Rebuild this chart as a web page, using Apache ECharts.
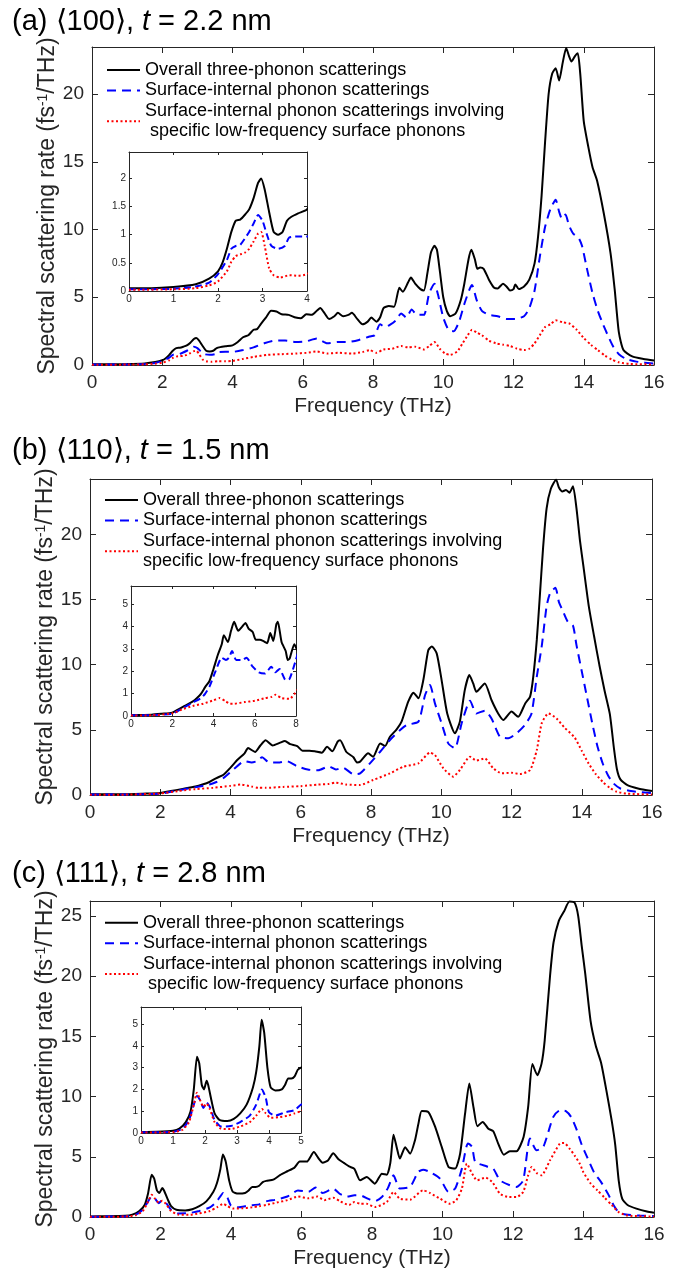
<!DOCTYPE html>
<html>
<head>
<meta charset="utf-8">
<title>Spectral scattering rate</title>
<script src="https://cdn.jsdelivr.net/npm/echarts@6/dist/echarts.min.js"></script>
<style>
  html, body { margin: 0; padding: 0; background: #fff; }
  #chart { width: 689px; height: 1273px; }
</style>
</head>
<body>
<div id="chart"></div>
<script>
// series values as [frequency (THz), rate (fs^-1/THz)]
const totalA = [[0,0.05],[0.5,0.05],[1,0.07],[1.5,0.12],[1.8,0.22],[2,0.35],[2.1,0.5],[2.2,0.75],[2.3,1.05],[2.4,1.25],[2.5,1.27],[2.6,1.35],[2.7,1.45],[2.8,1.65],[2.9,1.92],[2.97,2.0],[3.05,1.8],[3.15,1.4],[3.25,1.05],[3.35,1.0],[3.45,1.05],[3.55,1.25],[3.65,1.32],[3.8,1.38],[4.0,1.45],[4.15,1.7],[4.3,2.05],[4.45,2.2],[4.6,2.6],[4.7,2.65],[4.8,3.0],[4.95,3.5],[5.1,4.0],[5.25,3.95],[5.4,3.75],[5.6,3.7],[5.8,3.5],[5.95,3.45],[6.1,3.75],[6.25,3.7],[6.4,4.0],[6.5,4.2],[6.6,3.9],[6.75,3.4],[6.9,3.6],[7.0,3.85],[7.15,3.6],[7.3,3.7],[7.4,3.85],[7.55,3.4],[7.7,3.0],[7.85,3.2],[7.95,3.5],[8.1,3.2],[8.2,3.5],[8.3,4.2],[8.45,4.35],[8.6,4.3],[8.75,5.7],[8.85,5.4],[9.0,6.1],[9.08,6.45],[9.2,6.0],[9.35,5.6],[9.45,5.5],[9.55,6.8],[9.65,8.3],[9.75,8.8],[9.82,8.5],[9.9,7.0],[10.0,5.0],[10.1,4.0],[10.2,3.6],[10.35,3.8],[10.5,4.8],[10.6,6.0],[10.72,7.8],[10.8,8.5],[10.9,7.8],[10.97,7.1],[11.05,7.2],[11.15,7.1],[11.3,6.3],[11.45,5.7],[11.55,5.65],[11.7,6.0],[11.8,5.8],[11.9,5.5],[12.0,5.6],[12.05,5.95],[12.15,5.6],[12.3,5.8],[12.45,6.3],[12.6,7.5],[12.7,9.5],[12.8,12.5],[12.9,16.5],[13.0,20.0],[13.1,21.5],[13.2,21.9],[13.3,21.0],[13.4,22.3],[13.5,23.4],[13.58,22.8],[13.65,22.4],[13.75,22.8],[13.83,23.0],[13.9,21.5],[14.0,18.0],[14.13,16.1],[14.25,14.6],[14.38,13.6],[14.57,11.2],[14.76,8.3],[14.88,5.6],[15.0,2.4],[15.13,1.1],[15.38,0.64],[15.7,0.45],[16,0.33]];
const siA = [[0,0.03],[1,0.04],[1.5,0.08],[1.8,0.15],[2,0.3],[2.2,0.55],[2.3,0.75],[2.4,0.8],[2.5,0.82],[2.7,1.05],[2.8,1.2],[2.9,1.35],[3.0,1.25],[3.1,1.0],[3.2,0.8],[3.35,0.75],[3.5,0.8],[3.6,0.95],[3.8,0.97],[4.0,0.97],[4.3,1.1],[4.6,1.3],[4.9,1.6],[5.2,1.8],[5.5,1.8],[5.8,1.7],[6.1,1.75],[6.4,1.95],[6.7,1.6],[7.0,1.7],[7.3,1.7],[7.6,1.85],[7.9,2.1],[8.05,2.2],[8.2,3.0],[8.35,2.8],[8.5,3.0],[8.65,3.3],[8.8,3.8],[8.95,3.5],[9.1,4.1],[9.25,3.7],[9.45,3.7],[9.6,5.3],[9.75,6.0],[9.85,5.2],[10.0,3.5],[10.15,2.6],[10.3,2.5],[10.45,3.2],[10.6,4.5],[10.75,5.6],[10.82,5.9],[10.95,4.8],[11.1,4.0],[11.3,3.7],[11.55,3.6],[11.8,3.4],[12.05,3.4],[12.3,3.6],[12.45,4.2],[12.6,5.5],[12.75,8.0],[12.9,10.2],[13.05,11.5],[13.2,12.2],[13.3,11.3],[13.38,10.8],[13.48,11.1],[13.58,10.3],[13.7,9.7],[13.85,9.4],[13.95,8.8],[14.1,7.0],[14.25,5.3],[14.4,4.0],[14.55,3.0],[14.7,2.1],[14.85,1.3],[15.0,0.8],[15.2,0.45],[15.5,0.25],[16,0.1]];
const lowA = [[0,0.02],[1,0.03],[1.5,0.05],[1.8,0.1],[2,0.17],[2.2,0.35],[2.3,0.52],[2.4,0.62],[2.5,0.65],[2.6,0.68],[2.7,0.75],[2.8,0.88],[2.9,1.02],[2.97,1.05],[3.05,0.8],[3.15,0.4],[3.25,0.28],[3.4,0.24],[3.6,0.28],[3.8,0.27],[4.0,0.3],[4.3,0.45],[4.6,0.6],[5.0,0.75],[5.4,0.8],[5.8,0.85],[6.1,0.9],[6.4,1.0],[6.7,0.85],[7.0,0.9],[7.4,0.85],[7.7,0.95],[7.9,1.1],[8.1,0.9],[8.3,1.15],[8.55,1.2],[8.8,1.4],[9.0,1.3],[9.2,1.35],[9.45,1.15],[9.6,1.4],[9.75,1.7],[9.9,1.2],[10.05,0.85],[10.2,0.75],[10.4,1.0],[10.55,1.6],[10.7,2.2],[10.82,2.6],[10.95,2.4],[11.1,2.2],[11.3,1.8],[11.5,1.6],[11.7,1.5],[11.9,1.4],[12.1,1.2],[12.3,1.1],[12.45,1.2],[12.6,1.6],[12.75,2.2],[12.9,2.8],[13.05,3.0],[13.2,3.3],[13.4,3.15],[13.6,3.05],[13.8,2.6],[14.0,2.0],[14.2,1.5],[14.4,1.1],[14.6,0.7],[14.8,0.4],[15.0,0.2],[15.3,0.08],[16,0.04]];

const totalB = [[0,0.05],[1,0.06],[1.5,0.1],[2,0.15],[2.3,0.3],[2.6,0.45],[3.0,0.65],[3.2,0.8],[3.4,1.0],[3.6,1.3],[3.8,1.55],[4.0,2.1],[4.2,2.7],[4.4,3.2],[4.5,3.6],[4.7,3.3],[4.85,3.8],[5.0,4.2],[5.2,3.8],[5.4,4.0],[5.55,4.15],[5.7,3.9],[5.9,3.75],[6.05,3.4],[6.25,3.4],[6.4,3.35],[6.6,3.25],[6.75,3.7],[6.9,3.35],[7.05,4.1],[7.12,4.2],[7.3,3.3],[7.5,2.9],[7.6,2.5],[7.69,2.56],[7.92,3.2],[8.06,2.94],[8.26,3.96],[8.4,3.76],[8.54,4.47],[8.73,5.04],[8.87,5.63],[9.06,7.17],[9.21,7.85],[9.35,7.42],[9.49,8.82],[9.63,11.1],[9.73,11.4],[9.87,10.87],[10.01,8.82],[10.17,6.26],[10.39,4.73],[10.53,5.63],[10.67,8.05],[10.8,9.2],[10.91,8.56],[11.0,7.92],[11.24,8.56],[11.43,7.29],[11.62,6.26],[11.77,5.76],[12.0,6.4],[12.19,6.0],[12.39,7.03],[12.53,7.55],[12.62,9.08],[12.72,11.9],[12.8,15.0],[12.9,19.0],[13.0,22.0],[13.12,23.5],[13.27,24.2],[13.35,23.6],[13.45,23.3],[13.55,23.4],[13.65,23.2],[13.75,23.7],[13.85,22.0],[13.95,19.5],[14.05,17.5],[14.2,14.5],[14.35,12.2],[14.5,10.0],[14.65,8.0],[14.8,6.2],[14.92,3.5],[15.0,2.0],[15.1,1.2],[15.3,0.75],[15.6,0.5],[16,0.3]];
const siB = [[0,0.03],[1,0.04],[2,0.1],[2.5,0.35],[3.0,0.6],[3.4,0.8],[3.6,1.0],[3.8,1.3],[4.1,2.0],[4.4,2.6],[4.6,2.5],[4.75,2.6],[4.9,2.9],[5.1,2.5],[5.4,2.5],[5.6,2.6],[5.9,2.2],[6.2,1.95],[6.5,1.9],[6.8,2.2],[7.0,1.95],[7.2,2.1],[7.5,1.6],[7.69,1.66],[7.97,2.43],[8.26,3.32],[8.54,4.22],[8.83,4.99],[9.01,5.37],[9.35,5.63],[9.54,7.67],[9.68,8.44],[9.82,7.03],[10.01,5.5],[10.2,3.96],[10.39,3.58],[10.58,5.5],[10.82,7.24],[11.0,6.26],[11.24,6.47],[11.43,5.88],[11.67,4.47],[11.91,4.35],[12.14,4.73],[12.38,5.37],[12.57,6.26],[12.72,9.08],[12.86,11.4],[13.0,14.5],[13.1,15.5],[13.25,15.9],[13.35,14.8],[13.45,14.2],[13.6,13.3],[13.75,13.0],[13.85,11.5],[14.0,9.5],[14.15,7.5],[14.3,5.5],[14.45,3.7],[14.6,2.4],[14.75,1.5],[14.9,0.9],[15.1,0.5],[15.4,0.3],[16,0.15]];
const lowB = [[0,0.02],[1,0.03],[2,0.12],[2.5,0.3],[3.0,0.45],[3.5,0.55],[4.0,0.7],[4.3,0.8],[4.6,0.65],[4.8,0.55],[5.0,0.55],[5.5,0.62],[6.0,0.68],[6.5,0.8],[6.8,0.85],[7.0,0.95],[7.3,0.8],[7.69,0.77],[8.06,1.15],[8.54,1.66],[8.92,2.17],[9.35,2.43],[9.68,3.25],[9.82,3.07],[10.06,2.05],[10.34,1.41],[10.53,1.92],[10.82,2.94],[11.0,2.64],[11.24,2.81],[11.48,2.05],[11.72,1.66],[12.0,1.71],[12.24,1.61],[12.53,1.92],[12.72,3.45],[12.86,5.5],[13.05,6.26],[13.28,5.88],[13.5,5.2],[13.8,4.4],[14.0,3.4],[14.2,2.4],[14.4,1.6],[14.6,1.0],[14.8,0.55],[15.0,0.25],[15.3,0.1],[16,0.04]];

const totalC = [[0,0.05],[0.5,0.06],[1,0.1],[1.2,0.2],[1.4,0.5],[1.55,1.0],[1.65,2.0],[1.75,3.5],[1.82,3.2],[1.9,2.2],[1.97,2.0],[2.05,2.4],[2.1,2.2],[2.2,1.5],[2.3,0.9],[2.45,0.6],[2.7,0.55],[2.9,0.65],[3.1,0.9],[3.3,1.3],[3.5,2.1],[3.6,2.8],[3.7,4.0],[3.77,5.2],[3.85,4.6],[3.95,3.0],[4.05,2.1],[4.2,1.95],[4.4,2.0],[4.5,2.2],[4.6,2.5],[4.7,2.5],[4.8,2.6],[4.9,2.9],[5.0,3.0],[5.2,3.1],[5.4,3.5],[5.6,3.8],[5.8,4.1],[5.95,4.6],[6.15,4.6],[6.35,5.4],[6.5,4.8],[6.6,4.5],[6.75,4.7],[6.9,5.3],[7.05,4.8],[7.2,4.5],[7.35,4.2],[7.5,4.0],[7.66,3.05],[7.85,3.33],[8.08,2.77],[8.28,3.6],[8.42,3.52],[8.52,4.5],[8.61,6.84],[8.7,5.8],[8.79,4.85],[8.94,5.8],[9.08,5.26],[9.22,6.38],[9.32,7.8],[9.41,8.8],[9.6,8.72],[9.79,7.5],[9.98,5.8],[10.17,4.16],[10.36,4.02],[10.5,5.26],[10.64,8.58],[10.76,11.1],[10.88,9.1],[10.99,7.54],[11.14,7.9],[11.3,7.34],[11.44,7.12],[11.58,6.1],[11.74,5.18],[11.91,5.46],[12.1,5.46],[12.3,6.65],[12.43,9.14],[12.55,12.7],[12.69,11.78],[12.81,12.74],[12.9,14.7],[13.05,20.0],[13.15,22.8],[13.3,24.6],[13.45,25.4],[13.6,26.2],[13.75,26.1],[13.85,25.0],[13.95,22.5],[14.05,20.2],[14.2,16.3],[14.35,14.2],[14.5,12.8],[14.65,10.5],[14.8,8.0],[14.9,6.0],[15.0,3.0],[15.1,1.5],[15.25,1.0],[15.5,0.7],[15.8,0.45],[16,0.35]];
const siC = [[0,0.03],[1,0.05],[1.3,0.2],[1.5,0.6],[1.65,1.3],[1.75,1.7],[1.85,1.5],[1.95,1.15],[2.05,1.4],[2.15,1.2],[2.3,0.6],[2.5,0.3],[2.8,0.32],[3.1,0.5],[3.4,0.8],[3.6,1.3],[3.78,2.0],[3.9,1.6],[4.0,0.95],[4.2,0.8],[4.5,0.95],[4.8,1.05],[5.0,1.3],[5.3,1.45],[5.6,1.7],[5.9,2.2],[6.2,2.1],[6.4,2.45],[6.6,2.0],[6.9,2.35],[7.1,1.9],[7.3,1.7],[7.5,1.8],[7.66,1.8],[7.9,1.5],[8.08,1.31],[8.28,1.66],[8.45,2.4],[8.61,3.46],[8.79,2.36],[9.08,2.5],[9.31,3.74],[9.45,3.93],[9.64,3.74],[9.93,3.19],[10.17,2.08],[10.36,2.36],[10.55,4.02],[10.72,6.1],[10.84,5.82],[10.93,4.57],[11.26,4.2],[11.44,4.02],[11.63,3.05],[11.91,2.64],[12.1,2.5],[12.29,3.05],[12.48,6.52],[12.67,5.54],[12.86,5.82],[13.14,8.3],[13.33,8.86],[13.5,8.8],[13.65,8.3],[13.8,7.3],[13.95,6.0],[14.1,5.0],[14.3,3.7],[14.5,2.9],[14.7,1.9],[14.85,1.0],[15.0,0.4],[15.2,0.2],[15.6,0.12],[16,0.08]];
const lowC = [[0,0.02],[1,0.04],[1.3,0.15],[1.5,0.5],[1.65,1.3],[1.75,1.85],[1.85,1.5],[1.95,1.2],[2.05,1.35],[2.15,1.1],[2.3,0.5],[2.5,0.2],[2.8,0.18],[3.1,0.3],[3.4,0.5],[3.6,0.8],[3.78,1.1],[3.9,0.9],[4.05,0.7],[4.3,0.72],[4.6,0.8],[4.8,0.9],[5.0,1.0],[5.3,1.2],[5.6,1.4],[5.9,1.7],[6.2,1.55],[6.45,1.7],[6.65,1.4],[6.9,1.6],[7.1,1.3],[7.35,1.0],[7.5,1.25],[7.66,1.11],[7.85,1.1],[8.08,0.83],[8.42,1.25],[8.61,2.08],[8.79,1.52],[9.08,1.44],[9.45,2.22],[9.64,2.0],[9.93,1.52],[10.2,1.11],[10.39,1.39],[10.55,2.36],[10.69,4.43],[10.84,3.6],[10.98,3.05],[11.22,3.27],[11.41,2.91],[11.63,1.94],[11.87,1.66],[12.1,1.66],[12.29,2.08],[12.43,3.46],[12.53,4.16],[12.67,3.66],[12.81,3.46],[13.05,4.71],[13.33,6.1],[13.45,6.15],[13.6,5.7],[13.75,5.1],[13.9,4.4],[14.0,3.7],[14.2,2.8],[14.4,2.2],[14.6,1.6],[14.8,1.0],[15.0,0.4],[15.25,0.12],[16,0.04]];

// axis ranges: [xMax, xStep, yMax, yStep]
const mainA = [16, 2, 23.47, 5];
const mainB = [16, 2, 24.25, 5];
const mainC = [16, 2, 26.25, 5];
const insetA = [4, 1, 2.47, 0.5];
const insetB = [8, 2, 5.8, 1];
const insetC = [5, 1, 5.78, 1];

const titles = ['(a) \u27e8100\u27e9, {i|t} = 2.2 nm', '(b) \u27e8110\u27e9, {i|t} = 1.5 nm', '(c) \u27e8111\u27e9, {i|t} = 2.8 nm'];

const NAME_TOTAL = 'Overall three-phonon scatterings';
const NAME_SI = 'Surface-internal phonon scatterings';
const NAME_LOW = 'Surface-internal phonon scatterings involving\nspecific low-frequency surface phonons';
const NAME_LOW_IND = 'Surface-internal phonon scatterings involving\n specific low-frequency surface phonons';

const FONT = '"Liberation Sans", Arial, Helvetica, sans-serif';
const AX = '#262626';

// grid boxes in px: main panels then insets
const boxes = [
  { left: 92, top: 47, width: 562, height: 318 },
  { left: 90, top: 479, width: 562, height: 316 },
  { left: 90, top: 901, width: 564, height: 316 },
  { left: 129, top: 152, width: 178, height: 139 },
  { left: 131, top: 586, width: 165, height: 130 },
  { left: 141, top: 1007, width: 160, height: 126 },
];

function isWhole(v, step) {
  return Math.abs(v / step - Math.round(v / step)) < 1e-6;
}

function axis(gridIndex, position, max, step, big, withLabels) {
  return {
    type: 'value',
    gridIndex,
    position,
    min: 0,
    max,
    interval: step,
    axisLine: { show: true, onZero: false, lineStyle: { color: AX, width: 1 } },
    axisTick: { show: true, inside: true, length: big ? 6 : 3, lineStyle: { color: AX } },
    axisLabel: {
      show: withLabels,
      color: AX,
      fontSize: big ? 19 : 10,
      fontFamily: FONT,
      margin: big ? 8 : 3,
      // the odd max (e.g. 23.47) gets a tick but no label
      formatter: v => (isWhole(v, step) ? String(+v.toFixed(2)) : ''),
    },
    splitLine: { show: false },
  };
}

const ranges = [mainA, mainB, mainC, insetA, insetB, insetC];
const xAxes = [];
const yAxes = [];
ranges.forEach((r, i) => {
  const big = i < 3;
  const xb = axis(i, 'bottom', r[0], r[1], big, true);
  const yl = axis(i, 'left', r[2], r[3], big, true);
  if (big) {
    Object.assign(xb, {
      name: 'Frequency (THz)', nameLocation: 'middle', nameGap: 31, nameMoveOverlap: false,
      nameTextStyle: { fontSize: 21, color: AX, fontFamily: FONT },
    });
    Object.assign(yl, {
      name: 'Spectral scattering rate (fs{sup|-1}/THz)', nameLocation: 'middle', nameGap: 33,
      nameMoveOverlap: false,
      nameTextStyle: {
        fontSize: 23, color: AX, fontFamily: FONT,
        rich: { sup: { fontSize: 14, color: AX, fontFamily: FONT, verticalAlign: 'top' } },
      },
    });
  }
  xAxes.push(xb, axis(i, 'top', r[0], r[1], big, false));
  yAxes.push(yl, axis(i, 'right', r[2], r[3], big, false));
});

function curves(gi, total, si, low, lowName) {
  const big = gi < 3;
  const defs = [
    [NAME_TOTAL, total, '#000000', 'solid', 2],
    [NAME_SI, si, '#0000ff', big ? [9, 6] : [7, 4], 2],
    [lowName, low, '#ff0000', [2, 2.5], 2],
  ];
  return defs.map(([name, data, color, dash, width]) => ({
    type: 'line',
    name,
    data,
    xAxisIndex: gi * 2,
    yAxisIndex: gi * 2,
    symbol: 'none',
    smooth: 0.2,
    clip: true,
    color,
    lineStyle: { color, width, type: dash },
  }));
}

function legend(top, left, lowName) {
  return {
    orient: 'vertical',
    top, left,
    padding: 0,
    itemGap: 0,
    itemWidth: 33,
    itemHeight: 14,
    selectedMode: false,
    itemStyle: { opacity: 0 },
    data: [NAME_TOTAL, NAME_SI, lowName],
    textStyle: { fontSize: 18, color: '#000', fontFamily: FONT, lineHeight: 20.5 },
  };
}

const titleTops = [7, 436.5, 859.5];

const option = {
  animation: false,
  backgroundColor: '#ffffff',
  title: titles.map((text, i) => ({
    text,
    left: 12,
    top: titleTops[i],
    padding: 0,
    textStyle: {
      fontSize: 29, fontWeight: 'normal', color: '#000', fontFamily: FONT,
      rich: { i: { fontSize: 29, fontStyle: 'italic', color: '#000', fontFamily: FONT } },
    },
  })),
  legend: [
    legend(59.75, 106, NAME_LOW_IND),
    legend(489.75, 104, NAME_LOW),
    legend(912.5, 104, NAME_LOW_IND),
  ],
  grid: boxes.map(b => ({ ...b, containLabel: false, outerBoundsMode: 'none' })),
  xAxis: xAxes,
  yAxis: yAxes,
  series: [
    ...curves(0, totalA, siA, lowA, NAME_LOW_IND),
    ...curves(1, totalB, siB, lowB, NAME_LOW),
    ...curves(2, totalC, siC, lowC, NAME_LOW_IND),
    ...curves(3, totalA, siA, lowA, NAME_LOW_IND),
    ...curves(4, totalB, siB, lowB, NAME_LOW),
    ...curves(5, totalC, siC, lowC, NAME_LOW_IND),
  ],
};

const chart = echarts.init(document.getElementById('chart'), null, { renderer: 'canvas' });
chart.setOption(option);
window.addEventListener('resize', () => chart.resize());
</script>
</body>
</html>
